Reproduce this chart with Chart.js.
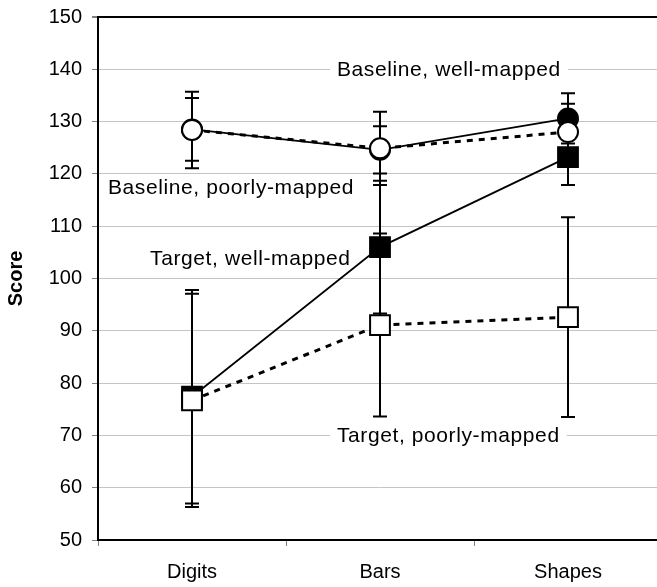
<!DOCTYPE html>
<html>
<head>
<meta charset="utf-8">
<script src="https://cdn.jsdelivr.net/npm/chart.js@4"></script>
<style>
  html, body { margin: 0; padding: 0; background: #fff; overflow: hidden; }
  #wrap { width: 657px; height: 587px; overflow: hidden; position: relative; }
  /* the tick paddings push the plot in by a few px, so the canvas is shifted to compensate */
  #scoreChart { position: absolute; left: 0; top: -5px; }
</style>
</head>
<body>
<div id="wrap"><canvas id="scoreChart" width="678" height="592"></canvas></div>
<script>
// categories and values
const categories = ['Digits', 'Bars', 'Shapes'];

const baselineWell = [128.5, 124.6, 130.6];
const baselineWellErr = [6.0, 4.5, 4.8];
const baselinePoor = [128.4, 124.9, 128.0];
const baselinePoorErr = [7.3, 7.0, 5.4];
const targetWell = [77.4, 106.0, 123.2];
const targetWellErr = [20.4, 12.7, 5.3];
const targetPoor = [76.7, 91.1, 92.6];
const targetPoorErr = [20.4, 17.5, 19.1];

const yTicks = { min: 50, max: 150, step: 10 };

// series labels written inside the plot (at = offset in categories from Digits)
const notes = [
    { text: 'Baseline, well-mapped', at: 0.771, value: 140 },
    { text: 'Baseline, poorly-mapped', at: -0.447, value: 117.5 },
    { text: 'Target, well-mapped', at: -0.223, value: 103.9 },
    { text: 'Target, poorly-mapped', at: 0.771, value: 70 }
];

const FONT = "'Liberation Sans', Arial, sans-serif";

// error bars + notes, drawn under the markers
const extras = {
    id: 'extras',
    beforeDatasetsDraw(chart) {
        const ctx = chart.ctx;
        const x = chart.scales.x, y = chart.scales.y;
        const step = x.getPixelForValue(1) - x.getPixelForValue(0);

        ctx.save();
        ctx.font = '21px ' + FONT;
        ctx.letterSpacing = '0.6px';
        ctx.textBaseline = 'middle';
        ctx.textAlign = 'left';
        notes.forEach(n => {
            const px = x.getPixelForValue(0) + n.at * step;
            const py = y.getPixelForValue(n.value);
            const w = ctx.measureText(n.text).width;
            ctx.fillStyle = '#fff';
            ctx.fillRect(px - 7, py - 10, w + 14, 20);
            ctx.fillStyle = '#000';
            ctx.fillText(n.text, px, py + 1);
        });
        ctx.letterSpacing = '0px';

        ctx.strokeStyle = '#000';
        ctx.lineWidth = 2;
        chart.data.datasets.forEach((ds, i) => {
            const meta = chart.getDatasetMeta(i);
            ds.errors.forEach((e, j) => {
                const px = meta.data[j].x;
                const top = y.getPixelForValue(ds.data[j] + e);
                const bot = y.getPixelForValue(ds.data[j] - e);
                ctx.beginPath();
                ctx.moveTo(px, top); ctx.lineTo(px, bot);
                ctx.moveTo(px - 7, top); ctx.lineTo(px + 7, top);
                ctx.moveTo(px - 7, bot); ctx.lineTo(px + 7, bot);
                ctx.stroke();
            });
        });
        ctx.restore();
    }
};

const solid = { borderColor: '#000', borderWidth: 1.8, pointBorderColor: '#000', pointBorderWidth: 2 };
const dotted = { borderColor: '#000', borderWidth: 3, borderDash: [6, 6], pointBorderColor: '#000', pointBorderWidth: 2 };

new Chart(document.getElementById('scoreChart'), {
    type: 'line',
    data: {
        labels: categories,
        // first dataset ends up on top
        datasets: [{
            label: 'Baseline, poorly-mapped',
            data: baselinePoor,
            errors: baselinePoorErr,
            ...dotted,
            pointStyle: 'circle', pointRadius: 10, pointBackgroundColor: '#fff'
        }, {
            label: 'Target, poorly-mapped',
            data: targetPoor,
            errors: targetPoorErr,
            ...dotted,
            pointStyle: 'rect', pointRadius: 14, pointBackgroundColor: '#fff'
        }, {
            label: 'Baseline, well-mapped',
            data: baselineWell,
            errors: baselineWellErr,
            ...solid,
            pointStyle: 'circle', pointRadius: 10, pointBackgroundColor: '#000'
        }, {
            label: 'Target, well-mapped',
            data: targetWell,
            errors: targetWellErr,
            ...solid,
            pointStyle: 'rect', pointRadius: 14, pointBackgroundColor: '#000'
        }]
    },
    options: {
        responsive: false,
        animation: false,
        devicePixelRatio: 1,
        layout: { padding: 0 },
        elements: { line: { tension: 0, fill: false } },
        scales: {
            x: {
                offset: true,
                afterFit: s => { s.height = 47; },
                border: { color: '#000', width: 2 },
                grid: { offset: true, drawOnChartArea: false, drawTicks: true, tickLength: 6, tickColor: '#808080' },
                ticks: { color: '#000', padding: 14, font: { family: FONT, size: 20 } }
            },
            y: {
                min: yTicks.min,
                max: yTicks.max,
                afterFit: s => { s.width = 98; },
                border: { color: '#000', width: 2 },
                grid: {
                    color: c => c.tick && c.tick.value === yTicks.max ? '#000' : '#c4c4c4',
                    lineWidth: c => c.tick && c.tick.value === yTicks.max ? 2 : 1,
                    tickLength: 6,
                    tickColor: '#808080'
                },
                ticks: { stepSize: yTicks.step, color: '#000', padding: 10, font: { family: FONT, size: 20 } },
                title: { display: true, text: 'Score', color: '#000', padding: { top: 4, bottom: 4 }, font: { family: FONT, size: 20, weight: 'bold' } }
            }
        },
        plugins: {
            legend: { display: false },
            tooltip: { enabled: false }
        }
    },
    plugins: [extras]
});
</script>
</body>
</html>
